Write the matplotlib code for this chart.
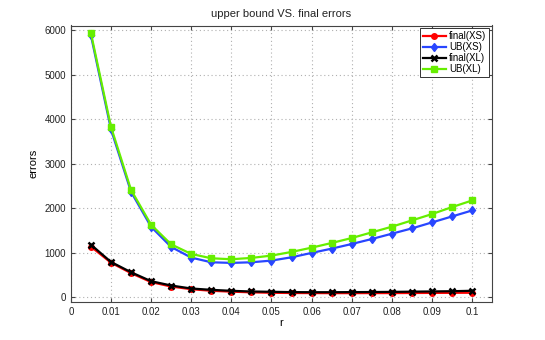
import numpy as np
import matplotlib
matplotlib.use("Agg")
import matplotlib.pyplot as plt

plt.rcParams['font.family'] = ['Liberation Sans', 'DejaVu Sans']

# data
r = [0.005, 0.01, 0.015, 0.02, 0.025, 0.03, 0.035, 0.04, 0.045, 0.05,
     0.055, 0.06, 0.065, 0.07, 0.075, 0.08, 0.085, 0.09, 0.095, 0.1]
final_xs = [1140, 780, 545, 345, 245, 185, 150, 130, 115, 105,
            100, 98, 97, 97, 98, 98, 100, 102, 104, 106]
ub_xs = [5880, 3770, 2370, 1585, 1133, 894, 789, 775, 789, 827,
         901, 999, 1095, 1199, 1311, 1430, 1549, 1683, 1817, 1951]
final_xl = [1184, 797, 566, 365, 268, 201, 171, 149, 134, 127,
            120, 118, 118, 120, 122, 125, 130, 135, 140, 150]
ub_xl = [5929, 3828, 2413, 1631, 1191, 976, 879, 857, 887, 939,
         1021, 1117, 1222, 1333, 1460, 1587, 1728, 1870, 2027, 2175]

xticks = [0, 0.01, 0.02, 0.03, 0.04, 0.05, 0.06, 0.07, 0.08, 0.09, 0.1]
xticklabels = ["0", "0.01", "0.02", "0.03", "0.04", "0.05", "0.06", "0.07", "0.08", "0.09", "0.1"]
yticks = [0, 1000, 2000, 3000, 4000, 5000, 6000]

fig = plt.figure(figsize=(5.45, 3.4), dpi=100)
ax = fig.add_axes([0.13, 0.112, 0.773, 0.813])

lw = 1.6
ax.plot(r, final_xs, "-o", color="#ff0000", lw=lw, ms=4, label="final(XS)")
ax.plot(r, ub_xs, "-d", color="#2846ff", lw=lw, ms=4.5, label="UB(XS)")
ax.plot(r, final_xl, "-x", color="black", lw=lw, ms=5, mew=1.8, label="final(XL)")
ax.plot(r, ub_xl, "-s", color="#66ee00", lw=lw, ms=4, label="UB(XL)")

ax.set_xlim(0, 0.105)
ax.set_ylim(-100, 6100)
ax.set_xticks(xticks)
ax.set_xticklabels(xticklabels)
ax.set_yticks(yticks)
ax.tick_params(direction="in", top=True, right=True, labelsize=7, length=3,
               color="#444444", labelcolor="#222222")
for s in ax.spines.values():
    s.set_color("#444444")
    s.set_linewidth(0.8)
ax.grid(True, linestyle=(0, (1, 2.5)), color="#b0b0b0", linewidth=0.8)

ax.set_title("upper bound VS. final errors", fontsize=8, color="#222222")
ax.set_xlabel("r", fontsize=8, labelpad=1)
ax.set_ylabel("errors", fontsize=8)

leg = ax.legend(loc="upper right", fontsize=7, fancybox=False, framealpha=1,
                edgecolor="#333333", borderpad=0.3, labelspacing=0.1,
                handlelength=2.4, handletextpad=0.3, borderaxespad=0.3)
leg.get_frame().set_linewidth(0.7)

fig.savefig("out.png", dpi=100)
